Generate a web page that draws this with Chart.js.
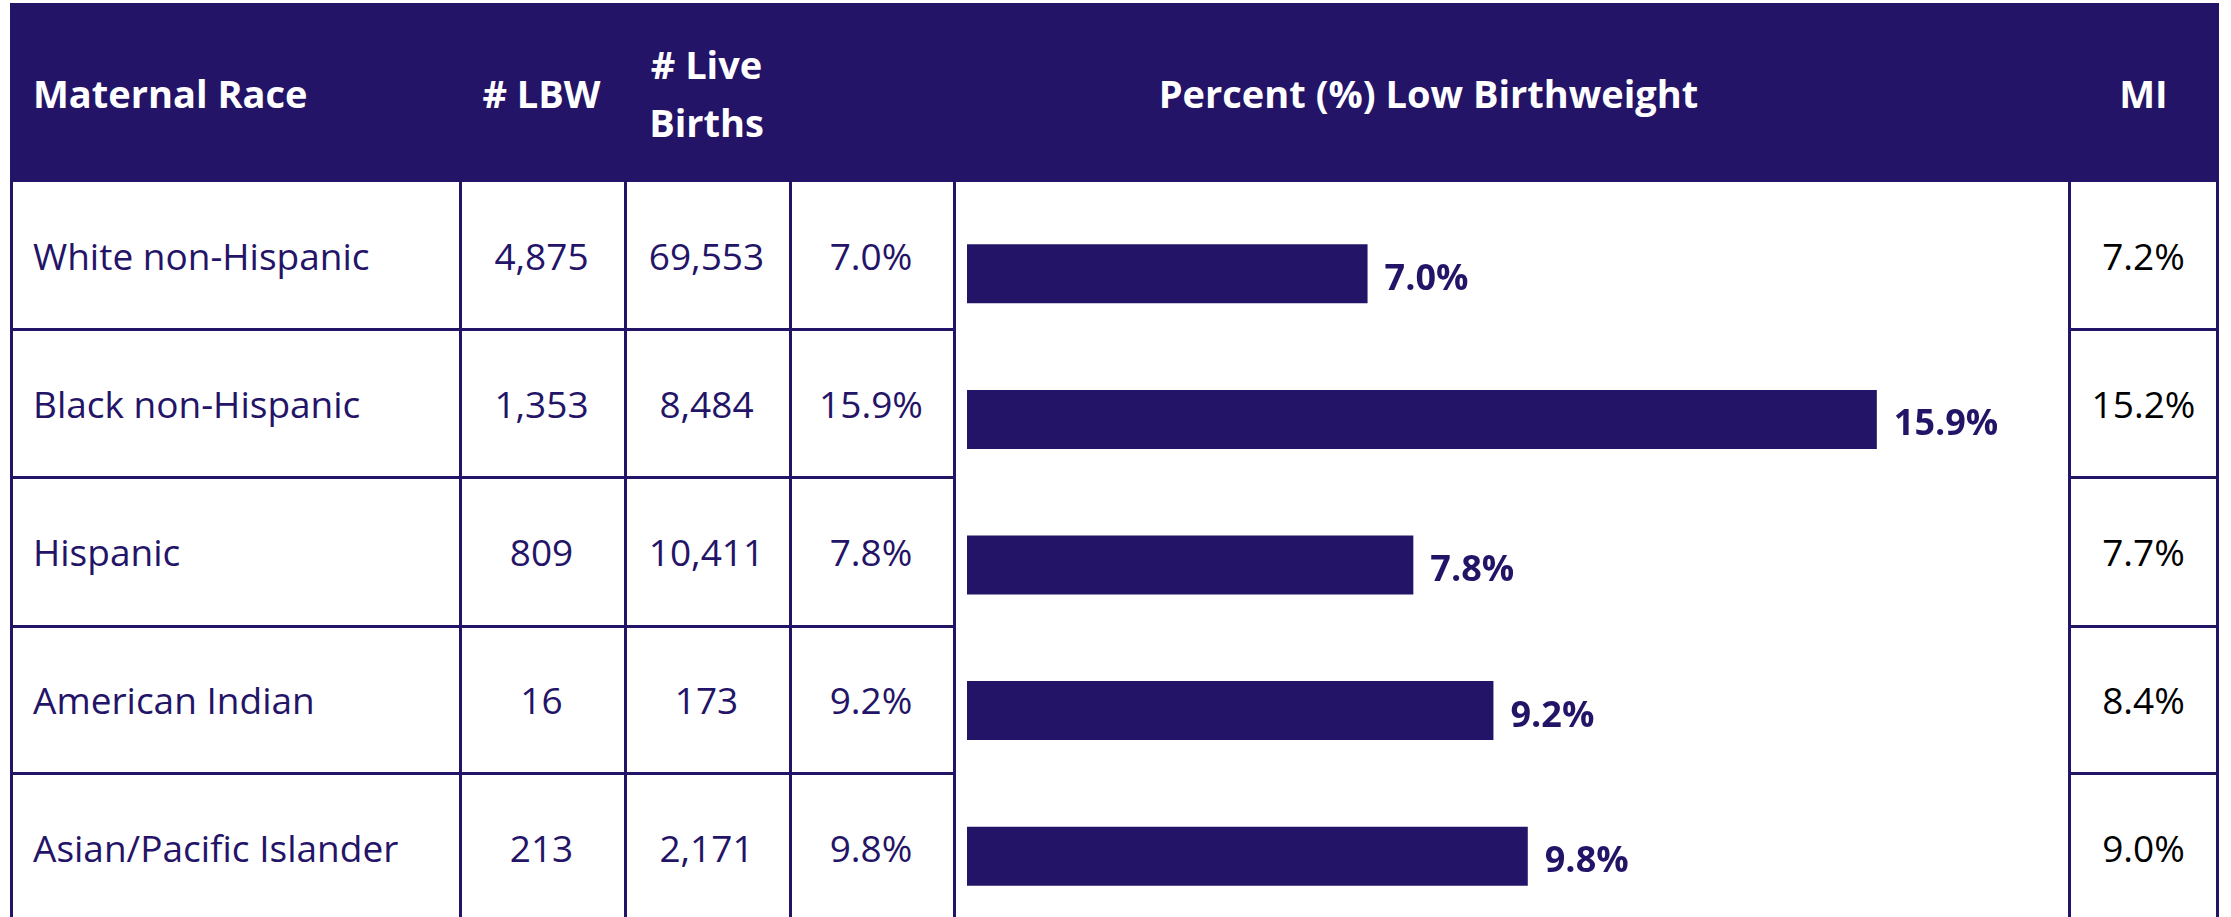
<!DOCTYPE html>
<html>
<head>
<meta charset="utf-8">
<script src="https://cdn.jsdelivr.net/npm/chart.js@4"></script>
<style>
  html, body { margin: 0; padding: 0; background: #fff; }
  body { width: 2231px; height: 917px; overflow: hidden; position: relative; font-family: "Open Sans", sans-serif; }
  .cell { position: absolute; display: flex; align-items: center; box-sizing: border-box; color: #241468; font-size: 37px; }
  .head { background: #241468; color: #fff; font-weight: bold; font-size: 38px; line-height: 58px; }
  .line { position: absolute; background: #241468; }
  #chart-box { position: absolute; left: 967px; top: 201px; width: 1030px; height: 728px; }
</style>
</head>
<body>
<div id="chart-box"><canvas id="lbw-chart"></canvas></div>
<script>
// Data
const races = ['White non-Hispanic', 'Black non-Hispanic', 'Hispanic', 'American Indian', 'Asian/Pacific Islander'];
const lbwCounts = ['4,875', '1,353', '809', '16', '213'];
const liveBirths = ['69,553', '8,484', '10,411', '173', '2,171'];
const pctLbw = [7.0, 15.9, 7.8, 9.2, 9.8];
const miPct = [7.2, 15.2, 7.7, 8.4, 9.0];
const headers = ['Maternal Race', '# LBW', '# Live<br>Births', 'Percent (%) Low Birthweight', 'MI'];

const purple = '#241468';

// Table layout (pixel edges)
const colEdges = [10, 459, 624, 789, 953, 2068, 2219];
const rowEdges = [3, 182, 329, 477, 626, 773, 921];

function addCell(x0, x1, y0, y1, html, cls, align, color) {
    const d = document.createElement('div');
    d.className = 'cell ' + (cls || '');
    d.style.left = x0 + 'px';
    d.style.top = y0 + 'px';
    d.style.width = (x1 - x0) + 'px';
    d.style.height = (y1 - y0) + 'px';
    d.style.justifyContent = align === 'left' ? 'flex-start' : 'center';
    d.style.textAlign = align === 'left' ? 'left' : 'center';
    if (align === 'left') d.style.paddingLeft = '23px';
    if (color) d.style.color = color;
    d.innerHTML = html;
    document.body.appendChild(d);
}

function addLine(x, y, w, h) {
    const d = document.createElement('div');
    d.className = 'line';
    d.style.left = x + 'px';
    d.style.top = y + 'px';
    d.style.width = w + 'px';
    d.style.height = h + 'px';
    document.body.appendChild(d);
}

// Header row
addCell(colEdges[0], colEdges[6], rowEdges[0], rowEdges[1], '', 'head');
addCell(colEdges[0], colEdges[1], rowEdges[0], rowEdges[1], headers[0], 'head', 'left');
addCell(colEdges[1], colEdges[2], rowEdges[0], rowEdges[1], headers[1], 'head');
addCell(colEdges[2], colEdges[3], rowEdges[0], rowEdges[1], headers[2], 'head');
addCell(colEdges[3], colEdges[5], rowEdges[0], rowEdges[1], headers[3], 'head');
addCell(colEdges[5], colEdges[6], rowEdges[0], rowEdges[1], headers[4], 'head');

// Body rows
races.forEach((race, i) => {
    const y0 = rowEdges[i + 1], y1 = rowEdges[i + 2];
    addCell(colEdges[0], colEdges[1], y0, y1, race, '', 'left');
    addCell(colEdges[1], colEdges[2], y0, y1, lbwCounts[i]);
    addCell(colEdges[2], colEdges[3], y0, y1, liveBirths[i]);
    addCell(colEdges[3], colEdges[4], y0, y1, pctLbw[i].toFixed(1) + '%');
    addCell(colEdges[5], colEdges[6], y0, y1, miPct[i].toFixed(1) + '%', '', 'center', '#000');
});

// Grid lines
[0, 1, 2, 3, 4, 5].forEach(c => addLine(colEdges[c], rowEdges[1], 3, 917 - rowEdges[1]));
addLine(colEdges[6] - 3, rowEdges[1], 3, 917 - rowEdges[1]);
for (let r = 2; r < rowEdges.length - 1; r++) {
    addLine(colEdges[0], rowEdges[r] - 1, colEdges[4] - colEdges[0], 3);
    addLine(colEdges[5], rowEdges[r] - 1, colEdges[6] - colEdges[5], 3);
}

// Bar value labels
const barLabels = {
    id: 'barLabels',
    afterDatasetsDraw(chart) {
        const ctx = chart.ctx;
        const meta = chart.getDatasetMeta(0);
        ctx.save();
        ctx.font = 'bold 36px "Open Sans", sans-serif';
        ctx.fillStyle = purple;
        ctx.textAlign = 'left';
        ctx.textBaseline = 'alphabetic';
        meta.data.forEach((bar, i) => {
            ctx.fillText(pctLbw[i].toFixed(1) + '%', bar.x + 17, bar.y + 16);
        });
        ctx.restore();
    }
};

const ctx = document.getElementById('lbw-chart').getContext('2d');
new Chart(ctx, {
    type: 'bar',
    data: {
        labels: races,
        datasets: [{
            data: pctLbw,
            backgroundColor: purple,
            borderWidth: 0,
            barPercentage: 0.405,
            categoryPercentage: 1
        }]
    },
    options: {
        indexAxis: 'y',
        responsive: true,
        maintainAspectRatio: false,
        animation: false,
        layout: { padding: 0 },
        scales: {
            x: { min: 0, max: 18, display: false },
            y: { display: false }
        },
        plugins: {
            legend: { display: false },
            tooltip: { enabled: false }
        }
    },
    plugins: [barLabels]
});
</script>
</body>
</html>
